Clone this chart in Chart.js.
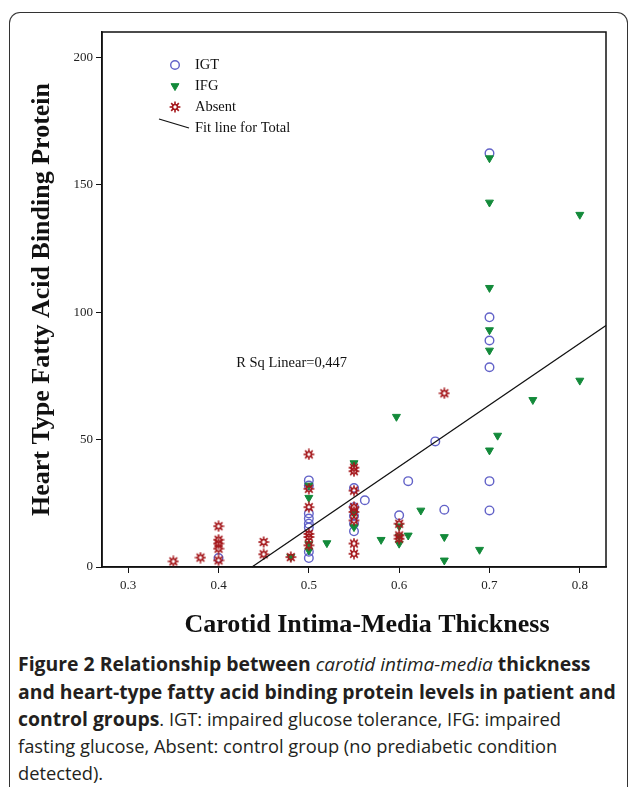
<!DOCTYPE html>
<html>
<head>
<meta charset="utf-8">
<script src="https://cdn.jsdelivr.net/npm/chart.js@4.4.1/dist/chart.umd.min.js"></script>
<style>
  html, body { margin: 0; padding: 0; background: #fff; }
  body { width: 629px; height: 787px; position: relative; overflow: hidden; }
  #frame { position: absolute; left: 9px; top: 12px; width: 617px; height: 800px;
           border: 1.5px solid #333; border-bottom: none; border-radius: 11px 11px 0 0; }
  #wrap { position: absolute; left: 0; top: 0; width: 629px; height: 650px; }
  #caption { position: absolute; left: 18px; top: 650px; width: 605px;
             font-family: "Open Sans", sans-serif; font-size: 19.4px; line-height: 27px;
             color: #231f20; white-space: nowrap; }
  #caption b { font-weight: 700; }
  #caption .n { font-size: 18.3px; font-weight: 400; }
  #caption i.n { font-size: 19px; }
</style>
</head>
<body>
<div id="frame"></div>
<div id="wrap"><canvas id="scatter"></canvas></div>
<div id="caption"><b>Figure 2 Relationship between </b><i class="n">carotid intima-media</i><b> thickness</b><br><b>and heart-type fatty acid binding protein levels in patient and</b><br><b>control groups</b><span class="n">. IGT: impaired glucose tolerance, IFG: impaired</span><br><span class="n">fasting glucose, Absent: control group (no prediabetic condition</span><br><span class="n">detected).</span></div>
<script>
// values
let igt_x = [0.40, 0.50, 0.50, 0.50, 0.50, 0.50, 0.50, 0.50, 0.50, 0.55, 0.55, 0.55, 0.55, 0.55, 0.562, 0.60, 0.61, 0.64, 0.65, 0.70, 0.70, 0.70, 0.70, 0.70, 0.70];
let igt_y = [3.5, 34, 32, 21, 19, 17, 15.5, 6, 3.5, 31, 23.5, 20, 17, 14, 26.2, 20.3, 33.7, 49.3, 22.5, 162.4, 98, 88.9, 78.4, 33.7, 22.2];

let ifg_x = [0.48, 0.50, 0.50, 0.50, 0.50, 0.52, 0.55, 0.55, 0.55, 0.58, 0.597, 0.60, 0.60, 0.60, 0.61, 0.624, 0.65, 0.65, 0.689, 0.70, 0.70, 0.70, 0.70, 0.70, 0.70, 0.709, 0.748, 0.80, 0.80];
let ifg_y = [4, 32, 27.2, 9, 6.5, 9.4, 40.8, 21, 15.7, 10.7, 59, 16, 12, 9.2, 12.4, 22.2, 11.8, 2.6, 6.8, 160.5, 143.1, 109.6, 93, 85, 45.8, 51.6, 65.6, 138.3, 73.2];

let abs_x = [0.35, 0.38, 0.40, 0.40, 0.40, 0.40, 0.40, 0.45, 0.45, 0.48, 0.50, 0.50, 0.50, 0.50, 0.50, 0.50, 0.55, 0.55, 0.55, 0.55, 0.55, 0.55, 0.55, 0.55, 0.60, 0.60, 0.60, 0.65];
let abs_y = [2.2, 3.7, 16, 10.7, 9.2, 7.2, 2.6, 9.8, 5.0, 3.9, 44.2, 30.7, 23.5, 13, 11.8, 8.5, 39, 37.6, 30, 23.5, 21.6, 18.3, 9.2, 5.2, 17, 12.4, 11.1, 68.2];

// fit line for total, read at the x axis and at the right frame
let fit_x = [0.437, 0.829];
let fit_y = [0, 94.8];

let x_range = [0.271, 0.829];
let y_range = [0, 210];
let x_title = "Carotid Intima-Media Thickness";
let y_title = "Heart Type Fatty Acid Binding Protein";
let rsq_text = "R Sq Linear=0,447";
let rsq_pos = [0.481, 80];

const zip = (xs, ys) => xs.map((x, i) => ({x: x, y: ys[i]}));

function makeBurst(color) {
  const c = document.createElement('canvas');
  c.width = 12; c.height = 12;
  const g = c.getContext('2d');
  g.strokeStyle = color;
  g.lineWidth = 1.6;
  for (let i = 0; i < 8; i++) {
    const a = i * Math.PI / 4;
    g.beginPath();
    g.moveTo(6 + Math.cos(a) * 2, 6 + Math.sin(a) * 2);
    g.lineTo(6 + Math.cos(a) * 5.4, 6 + Math.sin(a) * 5.4);
    g.stroke();
  }
  g.beginPath();
  g.arc(6, 6, 2.5, 0, 2 * Math.PI);
  g.stroke();
  return c;
}

const serif = '"Liberation Serif", "Times New Roman", serif';
Chart.defaults.font.family = serif;
Chart.defaults.color = '#222';

// box round the plot area
const plotFrame = {
  id: 'plotFrame',
  afterDraw(chart) {
    const {ctx, chartArea: a} = chart;
    ctx.save();
    ctx.strokeStyle = '#111';
    ctx.lineWidth = 1.5;
    ctx.strokeRect(a.left, a.top, a.right - a.left, a.bottom - a.top);
    ctx.restore();
  }
};

// legend sits inside the plot, top left
const insideLegend = {
  id: 'insideLegend',
  afterDraw(chart) {
    const {ctx, chartArea: a} = chart;
    const x0 = a.left + 73, y0 = a.top + 33;
    ctx.save();
    ctx.font = '14.5px ' + serif;
    ctx.textBaseline = 'middle';
    chart.data.datasets.forEach((ds, i) => {
      const y = y0 + i * 21;
      ctx.strokeStyle = ds.borderColor;
      ctx.fillStyle = ds.backgroundColor;
      ctx.lineWidth = ds.borderWidth;
      if (ds.showLine) {
        ctx.beginPath();
        ctx.moveTo(x0 - 16, y - 9);
        ctx.lineTo(x0 + 14, y);
        ctx.stroke();
      } else {
        Chart.helpers.drawPoint(ctx, {
          pointStyle: ds.pointStyle, radius: ds.pointRadius,
          rotation: ds.rotation || 0, borderWidth: ds.borderWidth
        }, x0, y);
      }
      ctx.fillStyle = '#111';
      ctx.fillText(ds.label, x0 + 20, y);
    });
    ctx.restore();
  }
};

// r squared note, and the x title which sits a little right of centre in the original
const notes = {
  id: 'notes',
  afterDraw(chart) {
    const {ctx, scales, chartArea: a} = chart;
    ctx.save();
    ctx.fillStyle = '#111';
    ctx.textAlign = 'center';
    ctx.textBaseline = 'middle';
    ctx.font = '14.5px ' + serif;
    ctx.fillText(rsq_text, scales.x.getPixelForValue(rsq_pos[0]), scales.y.getPixelForValue(rsq_pos[1]));
    ctx.font = 'bold 26px ' + serif;
    ctx.fillText(x_title, (a.left + a.right) / 2 + 13, a.bottom + 58);
    ctx.restore();
  }
};

var ctx = document.getElementById('scatter');
myChart = new Chart(ctx, {
  type: 'scatter',
  data: {
    datasets: [
      {
        label: "IGT",
        data: zip(igt_x, igt_y),
        pointStyle: 'circle',
        pointRadius: 4.3,
        borderWidth: 1.4,
        borderColor: "#6262c8",
        backgroundColor: "rgba(255,255,255,0)",
        order: 3
      },
      {
        label: "IFG",
        data: zip(ifg_x, ifg_y),
        pointStyle: 'triangle',
        rotation: 180,
        pointRadius: 4.6,
        borderWidth: 1,
        borderColor: "#138a3a",
        backgroundColor: "#138a3a",
        order: 2
      },
      {
        label: "Absent",
        data: zip(abs_x, abs_y),
        pointStyle: makeBurst("#a5181c"),
        pointRadius: 5,
        borderWidth: 1.6,
        borderColor: "#a5181c",
        backgroundColor: "#a5181c",
        order: 1
      },
      {
        label: "Fit line for Total",
        data: zip(fit_x, fit_y),
        showLine: true,
        pointRadius: 0,
        borderWidth: 1.3,
        borderColor: "#111",
        backgroundColor: "#111",
        order: 0
      }
    ]
  },
  options: {
    responsive: true,
    maintainAspectRatio: false,
    animation: false,
    events: [],
    clip: false,
    layout: { padding: { top: 32, right: 23, left: 0, bottom: 0 } },
    plugins: { legend: { display: false }, tooltip: { enabled: false } },
    scales: {
      x: {
        type: 'linear',
        min: x_range[0],
        max: x_range[1],
        afterFit: s => { s.height = 83; },
        ticks: { stepSize: 0.1, includeBounds: false, padding: 5, font: { size: 13 }, color: '#222' },
        grid: { drawOnChartArea: false, tickLength: 6, color: '#111', lineWidth: 1 },
        border: { color: '#111', width: 1.5 }
      },
      y: {
        min: y_range[0],
        max: y_range[1],
        afterFit: s => { s.width = 102; },
        ticks: { stepSize: 50, includeBounds: false, padding: 3, font: { size: 13 }, color: '#222' },
        grid: { drawOnChartArea: false, tickLength: 6, color: '#111', lineWidth: 1 },
        border: { color: '#111', width: 1.5 },
        title: {
          display: true,
          text: y_title,
          font: { size: 26, weight: 'bold' },
          color: '#111',
          padding: { top: 27, bottom: 0 }
        }
      }
    }
  },
  plugins: [plotFrame, insideLegend, notes]
});
</script>
</body>
</html>
